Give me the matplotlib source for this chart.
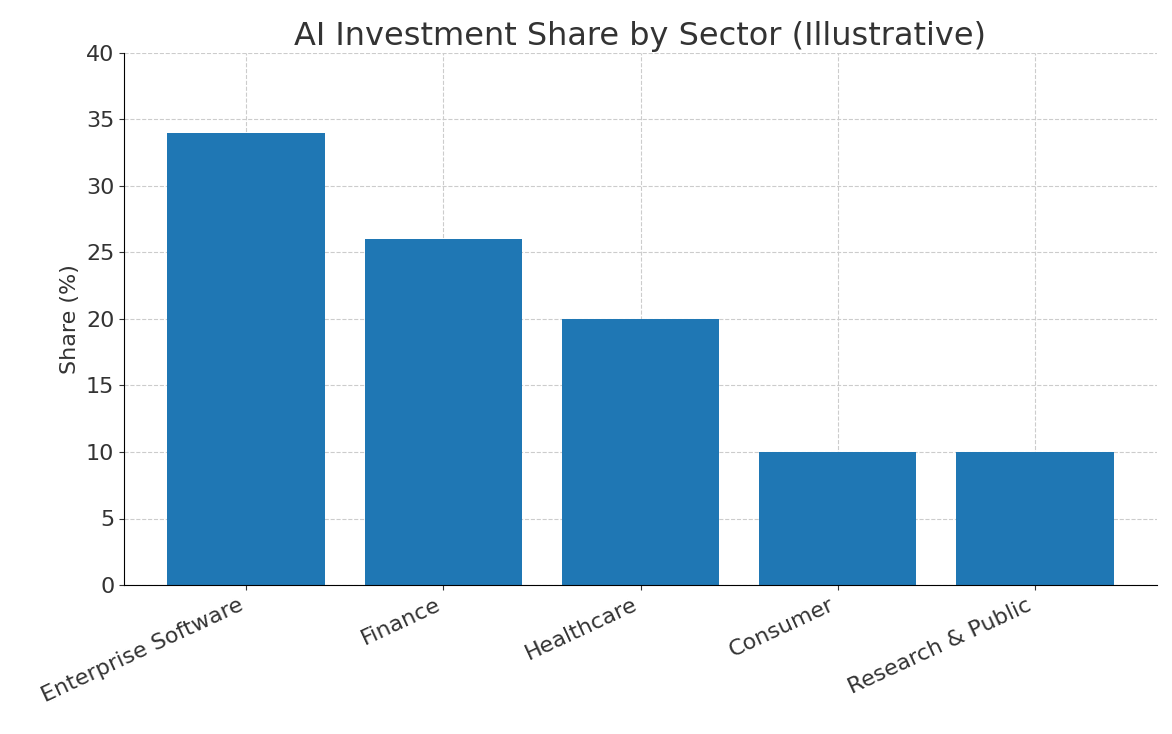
import matplotlib
matplotlib.use("Agg")
import matplotlib.pyplot as plt

sectors = ["Enterprise Software", "Finance", "Healthcare", "Consumer", "Research & Public"]
shares = [34, 26, 20, 10, 10]

fig = plt.figure(figsize=(11.72, 7.34), dpi=100)
ax = fig.add_axes([124/1172, 1-585/734, (1157-124)/1172, (585-53)/734])
ax.bar(sectors, shares, color="#1f77b4", width=0.8, zorder=2)
ax.set_ylim(0, 40)
ax.set_xlim(-0.62, 4.62)
ax.grid(True, linestyle="--", color="#cccccc", linewidth=0.8, zorder=0)
ax.spines["top"].set_visible(False)
ax.spines["right"].set_visible(False)
ax.set_title("AI Investment Share by Sector (Illustrative)", fontsize=23, color="#333333")
ax.set_ylabel("Share (%)", fontsize=16, color="#333333")
ax.tick_params(labelsize=16, colors="#333333")
plt.setp(ax.get_xticklabels(), rotation=25, ha="right")
fig.savefig("out.png", dpi=100)
